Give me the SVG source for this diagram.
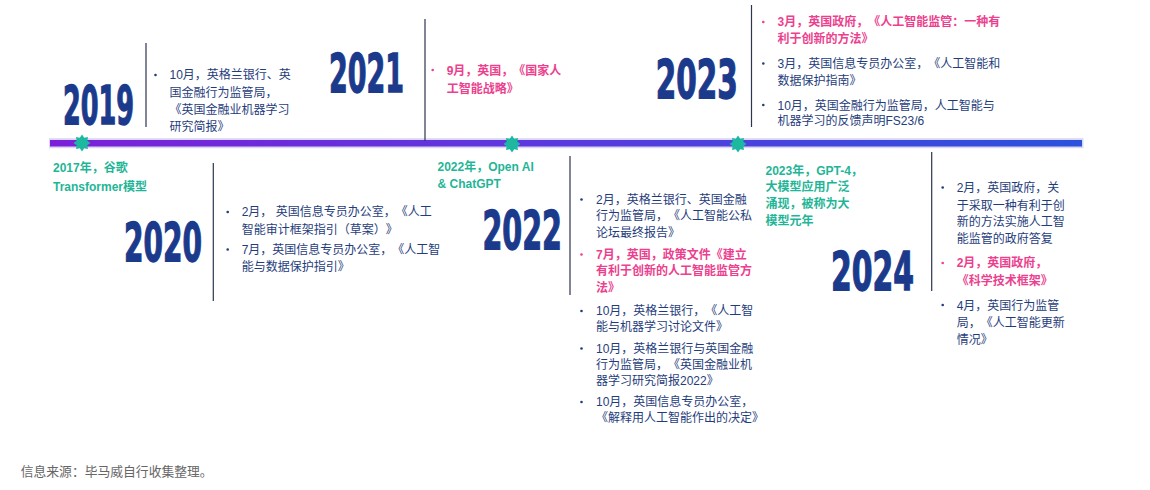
<svg xmlns="http://www.w3.org/2000/svg" width="1150" height="490" viewBox="0 0 1150 490">
<defs>
<linearGradient id="tl" x1="0" y1="0" x2="1" y2="0">
<stop offset="0" stop-color="#7b20d8"/>
<stop offset="0.5" stop-color="#5a3ae0"/>
<stop offset="1" stop-color="#2a52dc"/>
</linearGradient>
<polygon id="star" points="0,-8.5 2.2,-5.3 6,-6 5.3,-2.2 8.5,0 5.3,2.2 6,6 2.2,5.3 0,8.5 -2.2,5.3 -6,6 -5.3,2.2 -8.5,0 -5.3,-2.2 -6,-6 -2.2,-5.3" fill="#1db8a0"/>
</defs>
<style>
text{font-family:"Liberation Sans","Noto Sans CJK SC",sans-serif;text-spacing-trim:space-all;}
.yr{font-family:"Liberation Sans Narrow","DejaVu Sans Condensed","Liberation Sans",sans-serif;font-weight:bold;fill:#1b3a8c;stroke:#1b3a8c;stroke-width:1.3;font-size:54px;}
.t{font-size:12px;fill:#1f3d7c;}
.p{font-size:12px;fill:#ec3f8e;font-weight:bold;}
.g{font-size:12px;fill:#1fb597;font-weight:bold;}
.b{fill:#1f3d7c;}
.bp{fill:#ec3f8e;}
.v{stroke:#2a3550;stroke-width:1.2;}
.src{font-size:12.8px;fill:#666;}
</style>
<rect width="1150" height="490" fill="#ffffff"/>

<g id="connectors">
<rect x="49" y="138.2" width="1034.5" height="10" fill="#dcd6f6"/>
<rect x="50" y="140" width="1032" height="6.5" fill="url(#tl)"/>
<line class="v" x1="146" y1="43" x2="146" y2="127"/>
<line class="v" x1="213.3" y1="163" x2="213.3" y2="301"/>
<line class="v" x1="425" y1="19" x2="425" y2="141"/>
<line class="v" x1="570" y1="156" x2="570" y2="295"/>
<line class="v" x1="751.5" y1="5" x2="751.5" y2="127"/>
<line class="v" x1="931.7" y1="152" x2="931.7" y2="291"/>
</g>

<g id="m2017">
<use href="#star" x="82" y="143"/>
<text class="g"><tspan x="53" y="172">2017年，谷歌</tspan><tspan x="53" y="190.5">Transformer模型</tspan></text>
</g>
<g id="m2022">
<use href="#star" x="512" y="144"/>
<text class="g"><tspan x="437.5" y="171.3">2022年，Open AI</tspan><tspan x="437.5" y="188">&amp; ChatGPT</tspan></text>
</g>
<g id="m2023">
<use href="#star" x="738" y="144"/>
<text class="g"><tspan x="765.5" y="174.6">2023年，GPT-4，</tspan><tspan x="765.5" y="190.5">大模型应用广泛</tspan><tspan x="765.5" y="207.5">涌现，被称为大</tspan><tspan x="765.5" y="224.6">模型元年</tspan></text>
</g>

<g id="y2019">
<text class="yr" x="63" y="123.5" font-size="49" textLength="71" lengthAdjust="spacingAndGlyphs">2019</text>
<circle class="b" cx="155.5" cy="75" r="1.3"/>
<text class="t"><tspan x="169.5" y="79">10月，英格兰银行、英</tspan><tspan x="169.5" y="96.5">国金融行为监管局，</tspan><tspan x="169.5" y="114">《英国金融业机器学习</tspan><tspan x="169.5" y="131">研究简报》</tspan></text>
</g>

<g id="y2020">
<text class="yr" x="124" y="261" textLength="78" lengthAdjust="spacingAndGlyphs">2020</text>
<circle class="b" cx="227.7" cy="212" r="1.3"/>
<text class="t"><tspan x="241.7" y="216">2月， 英国信息专员办公室，《人工</tspan><tspan x="241.7" y="233.5">智能审计框架指引（草案）》</tspan></text>
<circle class="b" cx="227.7" cy="249.5" r="1.3"/>
<text class="t"><tspan x="241.7" y="254">7月，英国信息专员办公室，《人工智</tspan><tspan x="241.7" y="270.5">能与数据保护指引》</tspan></text>
</g>

<g id="y2021">
<text class="yr" x="329" y="92" textLength="75" lengthAdjust="spacingAndGlyphs">2021</text>
<circle class="bp" cx="432.7" cy="70" r="1.3"/>
<text class="p"><tspan x="446.7" y="74.6">9月，英国，《国家人</tspan><tspan x="446.7" y="93">工智能战略》</tspan></text>
</g>

<g id="y2022">
<text class="yr" x="482.5" y="249" textLength="79.5" lengthAdjust="spacingAndGlyphs">2022</text>
<circle class="b" cx="581.5" cy="199.5" r="1.3"/>
<text class="t"><tspan x="596" y="204">2月，英格兰银行、英国金融</tspan><tspan x="596" y="220">行为监管局，《人工智能公私</tspan><tspan x="596" y="236.5">论坛最终报告》</tspan></text>
<circle class="bp" cx="581.5" cy="254.5" r="1.3"/>
<text class="p"><tspan x="596" y="259">7月，英国，政策文件《建立</tspan><tspan x="596" y="275">有利于创新的人工智能监管方</tspan><tspan x="596" y="292">法》</tspan></text>
<circle class="b" cx="581.5" cy="311" r="1.3"/>
<text class="t"><tspan x="596" y="315.3">10月，英格兰银行，《人工智</tspan><tspan x="596" y="331.3">能与机器学习讨论文件》</tspan></text>
<circle class="b" cx="581.5" cy="348.5" r="1.3"/>
<text class="t"><tspan x="596" y="353">10月，英格兰银行与英国金融</tspan><tspan x="596" y="369">行为监管局，《英国金融业机</tspan><tspan x="596" y="385">器学习研究简报2022》</tspan></text>
<circle class="b" cx="581.5" cy="402" r="1.3"/>
<text class="t"><tspan x="596" y="406.3">10月，英国信息专员办公室，</tspan><tspan x="596" y="421.5">《解释用人工智能作出的决定》</tspan></text>
</g>

<g id="y2023">
<text class="yr" x="655.7" y="98" textLength="82" lengthAdjust="spacingAndGlyphs">2023</text>
<circle class="bp" cx="763.3" cy="22" r="1.3"/>
<text class="p"><tspan x="777.5" y="26.3">3月，英国政府，《人工智能监管：一种有</tspan><tspan x="777.5" y="43">利于创新的方法》</tspan></text>
<circle class="b" cx="763.3" cy="63.5" r="1.3"/>
<text class="t"><tspan x="777.5" y="68">3月，英国信息专员办公室，《人工智能和</tspan><tspan x="777.5" y="84.6">数据保护指南》</tspan></text>
<circle class="b" cx="763.3" cy="105" r="1.3"/>
<text class="t"><tspan x="777.5" y="109.6">10月，英国金融行为监管局，人工智能与</tspan><tspan x="777.5" y="124.6">机器学习的反馈声明FS23/6</tspan></text>
</g>

<g id="y2024">
<text class="yr" x="831" y="290" textLength="83" lengthAdjust="spacingAndGlyphs">2024</text>
<circle class="b" cx="942.7" cy="187.5" r="1.3"/>
<text class="t"><tspan x="956.7" y="192">2月，英国政府，关</tspan><tspan x="956.7" y="209.6">于采取一种有利于创</tspan><tspan x="956.7" y="226.3">新的方法实施人工智</tspan><tspan x="956.7" y="243">能监管的政府答复</tspan></text>
<circle class="bp" cx="942.7" cy="263" r="1.3"/>
<text class="p"><tspan x="956.7" y="267.3">2月，英国政府，</tspan><tspan x="956.7" y="284.6">《科学技术框架》</tspan></text>
<circle class="b" cx="942.7" cy="305" r="1.3"/>
<text class="t"><tspan x="956.7" y="309.6">4月，英国行为监管</tspan><tspan x="956.7" y="327.3">局，《人工智能更新</tspan><tspan x="956.7" y="344">情况》</tspan></text>
</g>

<g id="source">
<text class="src" x="20.7" y="476">信息来源：毕马威自行收集整理。</text>
</g>
</svg>
